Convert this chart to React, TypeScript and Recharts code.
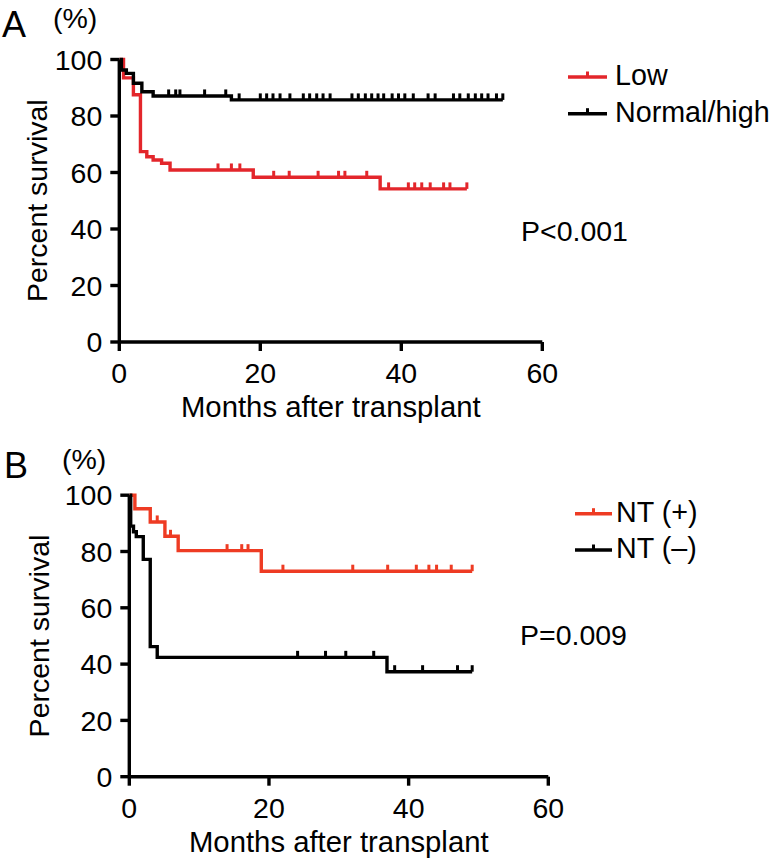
import React from 'react';
import { LineChart, Line, XAxis, YAxis, Legend } from 'recharts';

// Panel A: survival by level (Low vs Normal/high)
const lowSteps = [[0, 100], [0.6, 93.5], [2.0, 87.5], [3.0, 67.4], [3.9, 65.6], [4.8, 64.4], [6.0, 63.3], [7.2, 60.9], [19.0, 58.3], [37.0, 54.2]];
const lowCensored = [14.0, 15.9, 17.1, 21.9, 24.1, 28.2, 31.1, 32.0, 35.1, 38.2, 41.0, 41.9, 42.9, 44.1, 46.0, 46.9, 49.3];
const normalSteps = [[0, 100], [0.3, 96.3], [1.0, 95.1], [2.0, 91.6], [3.2, 88.6], [4.8, 87.1], [15.9, 85.7]];
const normalCensored = [7.0, 8.0, 8.6, 12.1, 15.1, 17.0, 20.0, 20.9, 21.8, 22.8, 24.2, 26.1, 27.0, 28.0, 28.9, 29.9, 33.0, 33.9, 34.9, 35.8, 36.7, 37.5, 38.7, 39.6, 40.5, 41.7, 43.8, 44.8, 47.4, 48.3, 49.5, 50.5, 51.4, 52.3, 53.5, 54.4];

// Panel B: survival by NT status
const ntPosSteps = [[0, 100], [0.8, 95.2], [3.0, 90.5], [5.1, 85.4], [7.0, 80.3], [18.9, 73.0]];
const ntPosCensored = [4.0, 5.9, 14.0, 16.1, 17.0, 22.0, 32.0, 37.0, 41.1, 42.9, 44.0, 46.1, 49.1];
const ntNegSteps = [[0, 100], [0.2, 89.0], [0.6, 87.0], [1.0, 85.3], [2.0, 77.2], [3.0, 46.2], [4.0, 42.4], [36.9, 37.3]];
const ntNegCensored = [24.1, 28.1, 31.0, 35.0, 38.0, 42.0, 47.0, 49.1];

const xTicks = [0, 20, 40, 60];
const yTicks = [0, 20, 40, 60, 80, 100];

const FONT = '"Liberation Sans", Arial, Helvetica, sans-serif';
const RED_A = '#e3262b';
const RED_B = '#ee3b23';

type Pt = { t: number; s: number; c?: boolean };

function buildCurve(steps: number[][], censored: number[]): Pt[] {
  const pts: Pt[] = steps.map(([t, s]) => ({ t, s }));
  censored.forEach((t) => {
    let s = 100;
    steps.forEach(([st, sv]) => { if (st <= t) s = sv; });
    pts.push({ t, s, c: true });
  });
  return pts.sort((a, b) => a.t - b.t);
}

const censorDot = (color: string) => (props: any) => {
  const { cx, cy, payload, index } = props;
  if (!payload || !payload.c) return <g key={`n-${index}`} />;
  return <rect key={`c-${index}`} x={cx - 1.5} y={cy - 6.5} width={3} height={6.5} fill={color} />;
};

const makeLegend = (lineX1: number, lineX2: number, textX: number, base0: number, gap: number) => (props: any) => {
  const items = props.payload || [];
  return (
    <svg width={216} height={90} style={{ overflow: 'visible' }}>
      {items.map((it: any, i: number) => {
        const base = base0 + i * gap;
        const ly = base - 8;
        const mid = (lineX1 + lineX2) / 2;
        return (
          <g key={it.value}>
            <line x1={lineX1} x2={lineX2} y1={ly} y2={ly} stroke={it.color} strokeWidth={3.4} />
            <rect x={mid - 1.5} y={ly - 5.5} width={3} height={5.5} fill={it.color} />
            <text x={textX} y={base} fontSize={28.7} fontFamily={FONT} fill="#000">{it.value}</text>
          </g>
        );
      })}
    </svg>
  );
};

const axisProps = {
  axisLine: { stroke: '#000', strokeWidth: 3.4 },
  tickLine: { stroke: '#000', strokeWidth: 3.4 },
  tickSize: 9,
  tick: { fill: '#000', fontSize: 28.5, fontFamily: FONT },
};

type PanelProps = {
  top: number;
  height: number;
  left: number;
  right: number;
  plotTop: number;
  plotBottom: number;
  series: { name: string; color: string; data: Pt[] }[];
  legendPos: { left: number; top: number };
  legendContent: any;
};

function Panel(p: PanelProps) {
  return (
    <div style={{ position: 'absolute', left: 0, top: p.top }}>
      <LineChart
        width={776}
        height={p.height}
        margin={{ top: p.plotTop, right: 776 - p.right, left: 0, bottom: 0 }}
      >
        <XAxis
          type="number"
          dataKey="t"
          domain={[0, 60]}
          ticks={xTicks}
          allowDataOverflow
          height={p.height - p.plotBottom}
          tickMargin={12}
          {...axisProps}
        />
        <YAxis
          type="number"
          domain={[0, 100]}
          ticks={yTicks}
          width={p.left}
          tickMargin={8}
          {...axisProps}
        />
        <Legend
          layout="vertical"
          align="center"
          verticalAlign="middle"
          wrapperStyle={{ left: p.legendPos.left, top: p.legendPos.top, width: 216, height: 90 }}
          content={p.legendContent}
        />
        {p.series.map((s) => (
          <Line
            key={s.name}
            name={s.name}
            data={s.data}
            dataKey="s"
            type="stepAfter"
            stroke={s.color}
            strokeWidth={3.4}
            dot={censorDot(s.color)}
            activeDot={false}
            legendType="line"
            isAnimationActive={false}
          />
        ))}
      </LineChart>
    </div>
  );
}

export default function App() {
  const seriesA = [
    { name: 'Low', color: RED_A, data: buildCurve(lowSteps, lowCensored) },
    { name: 'Normal/high', color: '#000', data: buildCurve(normalSteps, normalCensored) },
  ];
  const seriesB = [
    { name: 'NT (+)', color: RED_B, data: buildCurve(ntPosSteps, ntPosCensored) },
    { name: 'NT (\u2013)', color: '#000', data: buildCurve(ntNegSteps, ntNegCensored) },
  ];
  const txt = { fontFamily: FONT, fill: '#000' } as const;
  return (
    <div style={{ position: 'absolute', left: 0, top: 0, width: 776, height: 863, background: '#fff', overflow: 'hidden' }}>
      <Panel
        top={0}
        height={431}
        left={119.3}
        right={542.3}
        plotTop={59.5}
        plotBottom={342}
        series={seriesA}
        legendPos={{ left: 560, top: 55 }}
        legendContent={makeLegend(8, 47, 55, 30, 36.7)}
      />
      <Panel
        top={431}
        height={432}
        left={129.3}
        right={548.3}
        plotTop={64.2}
        plotBottom={345.7}
        series={seriesB}
        legendPos={{ left: 560, top: 55 }}
        legendContent={makeLegend(15, 52, 56, 35.7, 36.3)}
      />
      <svg width={776} height={863} style={{ position: 'absolute', left: 0, top: 0, pointerEvents: 'none' }}>
        <text x={2} y={37} fontSize={36} {...txt}>A</text>
        <text x={53} y={28} fontSize={28.5} {...txt}>(%)</text>
        <text transform="translate(46.7,200.7) rotate(-90)" textAnchor="middle" fontSize={28.5} {...txt}>Percent survival</text>
        <text x={330.8} y={417} textAnchor="middle" fontSize={29.3} {...txt}>Months after transplant</text>
        <text x={521} y={241} fontSize={28.5} {...txt}>P&lt;0.001</text>

        <text x={4} y={478} fontSize={36} {...txt}>B</text>
        <text x={62} y={469} fontSize={28.5} {...txt}>(%)</text>
        <text transform="translate(49,636) rotate(-90)" textAnchor="middle" fontSize={28.5} {...txt}>Percent survival</text>
        <text x={338.8} y={851.5} textAnchor="middle" fontSize={29.3} {...txt}>Months after transplant</text>
        <text x={520} y={645} fontSize={28.5} {...txt}>P=0.009</text>
      </svg>
    </div>
  );
}
